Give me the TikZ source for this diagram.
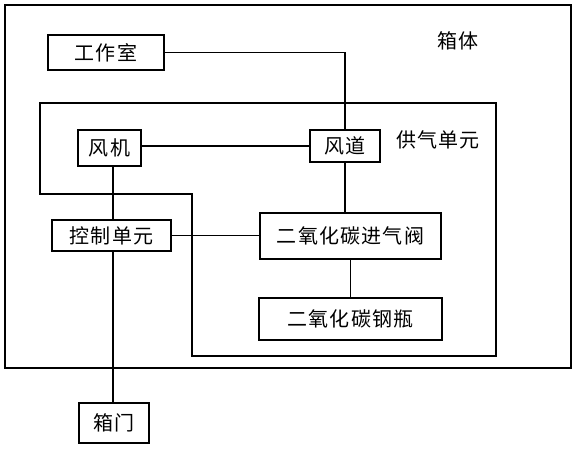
\documentclass[tikz,border=0pt]{standalone}
\usepackage{fontspec}
\newfontfamily\cjk[LetterSpace=6]{Noto Sans CJK SC}
\tikzset{
  part/.style={draw, line width=1pt, inner sep=0pt, font=\cjk\fontsize{15}{17}\selectfont},
  tag/.style={inner sep=0pt, font=\cjk\fontsize{15}{17}\selectfont},
  wire/.style={line width=1pt}
}
\begin{document}
\begin{tikzpicture}[x=0.75pt, y=-0.75pt]
    \useasboundingbox (0,0) rectangle (578,450);

    % cabinet and gas supply unit
    \draw[wire] (5,5) rectangle (571,368);
    \draw[wire] (40,103) -- (496,103) -- (496,356) -- (192,356)
        -- (192,194) -- (40,194) -- cycle;

    \node[tag] (cabinet) at (458,41) {箱体};
    \node[tag] (supply) at (438,140) {供气单元};

    \node[part, minimum width=87pt, minimum height=26.25pt] (room) at (106,52.5) {工作室};
    \node[part, minimum width=47.25pt, minimum height=27pt] (fan) at (109.5,148) {风机};
    \node[part, minimum width=52.5pt, minimum height=24pt] (duct) at (345,146) {风道};
    \node[part, minimum width=89.25pt, minimum height=23.25pt] (ctrl) at (111.5,235.5) {控制单元};
    \node[part, minimum width=135.75pt, minimum height=34.5pt] (valve) at (350.5,236) {二氧化碳进气阀};
    \node[part, minimum width=137.25pt, minimum height=31.5pt] (bottle) at (350.5,319) {二氧化碳钢瓶};
    \node[part, minimum width=52.5pt, minimum height=30pt] (door) at (114,423) {箱门};

    \coordinate (spine) at (113,0);

    \draw[wire] (room.east) -| (duct.north);
    \draw[wire] (fan.east |- duct.west) -- (duct.west);
    \draw[wire] (fan.south -| spine) -- (ctrl.north -| spine);
    \draw[wire] (ctrl.south -| spine) -- (door.north -| spine);
    \draw[wire] (ctrl.east) -- (valve.west |- ctrl.east);
    \draw[wire] (duct.south) -- (duct.south |- valve.north);
    \draw[wire] (valve.south) -- (bottle.north);

\end{tikzpicture}
\end{document}
